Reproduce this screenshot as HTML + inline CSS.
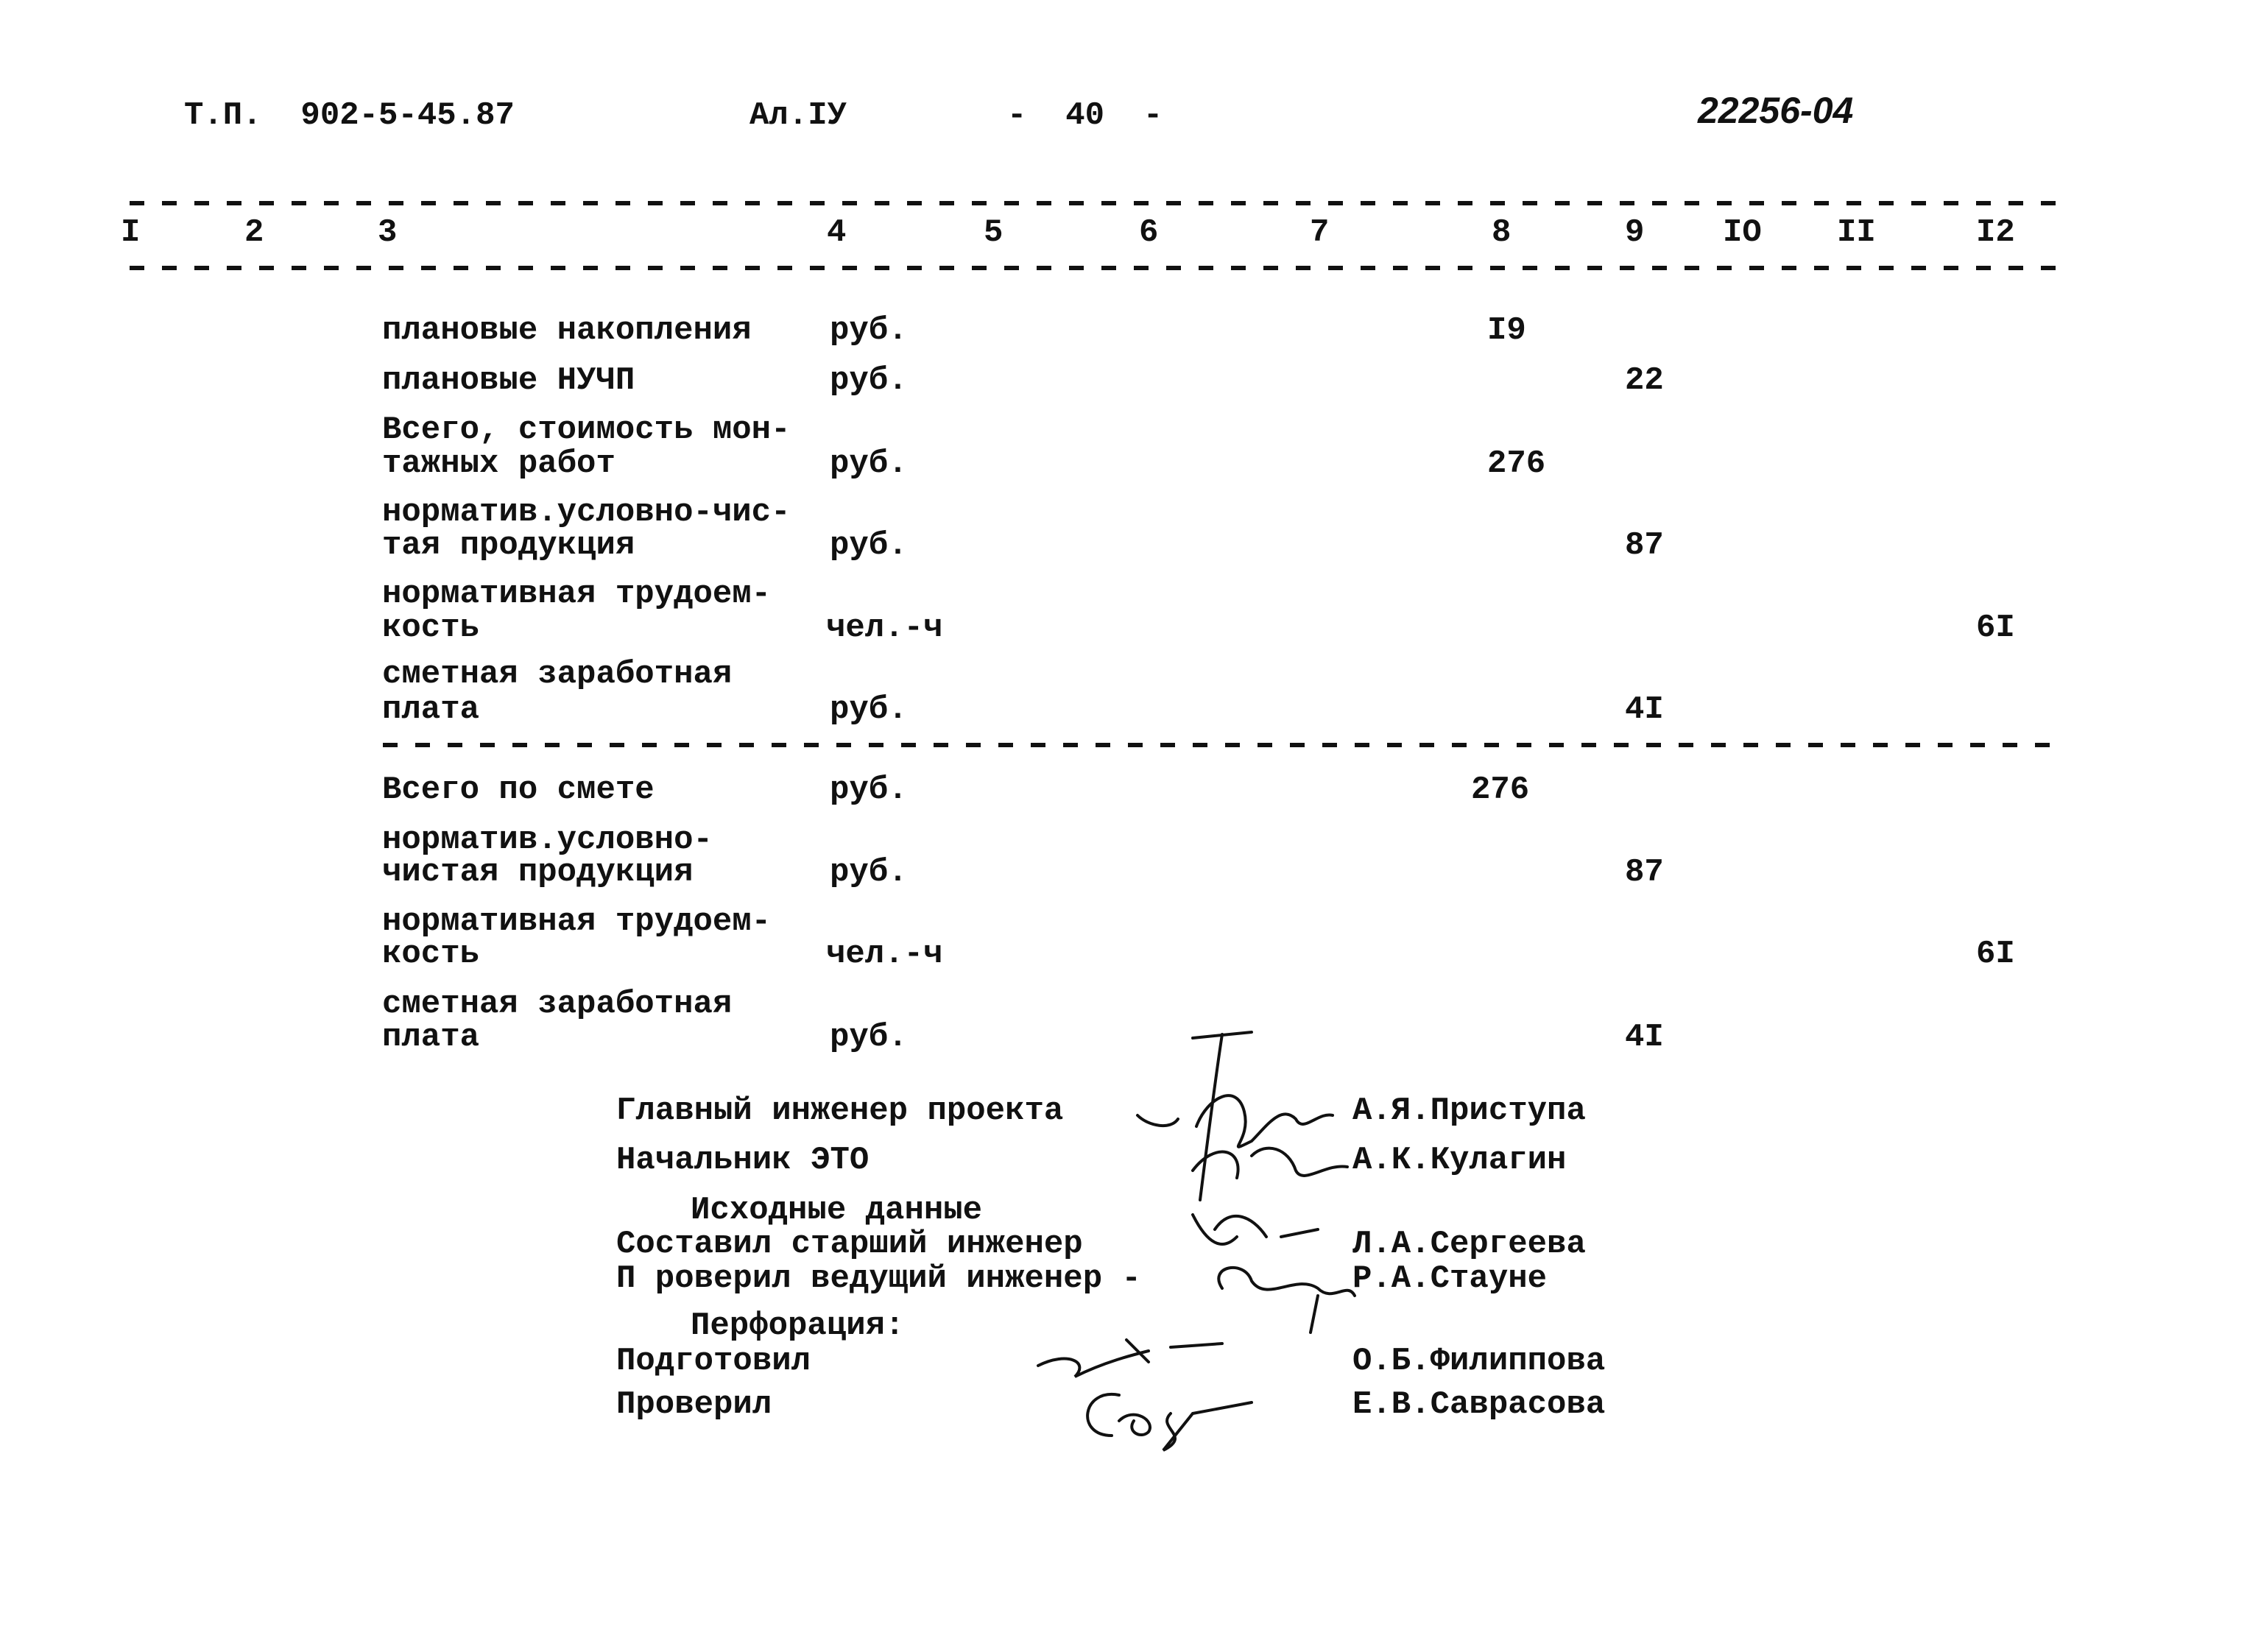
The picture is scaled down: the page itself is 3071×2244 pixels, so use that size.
<!DOCTYPE html>
<html><head><meta charset="utf-8"><style>
body{margin:0;background:#fff;}
#p{position:relative;width:3071px;height:2244px;overflow:hidden;background:#fff;font-family:"Liberation Mono","DejaVu Sans Mono",monospace;font-size:44px;font-weight:bold;color:#111;}
#p div{position:absolute;white-space:pre;line-height:44px;}
</style></head><body><div id="p">
<svg width="3071" height="2244" style="position:absolute;left:0;top:0">
<g stroke="#111" stroke-width="6" stroke-dasharray="20 24">
<line x1="176" y1="276" x2="2800" y2="276"/>
<line x1="176" y1="364" x2="2800" y2="364"/>
<line x1="520" y1="1012" x2="2800" y2="1012"/>
</g>
<g fill="none" stroke="#111" stroke-width="4" stroke-linecap="round">
<path d="M1620 1410 L1700 1402 M1660 1405 C1650 1470 1640 1550 1630 1630 M1545 1515 C1560 1530 1590 1535 1600 1520 M1625 1530 C1640 1490 1680 1470 1690 1510 C1700 1550 1660 1570 1700 1550 C1720 1530 1740 1500 1760 1520 C1770 1540 1790 1510 1810 1515"/>
<path d="M1620 1590 C1650 1550 1690 1560 1680 1600 M1700 1570 C1720 1550 1750 1560 1760 1590 C1770 1610 1800 1580 1830 1585"/>
<path d="M1620 1650 C1640 1690 1660 1700 1680 1680 M1650 1670 C1670 1640 1700 1650 1720 1680 M1740 1680 L1790 1670"/>
<path d="M1660 1750 C1640 1720 1690 1710 1700 1740 C1720 1770 1760 1730 1790 1750 C1810 1770 1830 1740 1840 1760 M1790 1760 L1780 1810"/>
<path d="M1410 1855 C1450 1835 1480 1850 1460 1870 C1500 1850 1540 1840 1560 1835 M1530 1820 L1560 1850 M1590 1830 L1660 1825"/>
<path d="M1520 1895 C1470 1885 1460 1950 1510 1950 M1520 1930 C1540 1910 1570 1930 1560 1945 C1550 1955 1530 1945 1540 1930 M1590 1920 C1570 1940 1620 1950 1580 1970 L1620 1920 L1700 1905"/>
</g>
</svg>
<div style="left:250px;top:135px">Т.П.  902-5-45.87</div>
<div style="left:1018px;top:135px">Ал.IУ</div>
<div style="left:1368px;top:135px">-  40  -</div>
<div style="left:2306px;top:128px;font-style:italic;font-family:'Liberation Sans',sans-serif;font-size:50px">22256-04</div>

<div style="left:164px;top:294px">I</div>
<div style="left:332px;top:294px">2</div>
<div style="left:513px;top:294px">3</div>
<div style="left:1123px;top:294px">4</div>
<div style="left:1336px;top:294px">5</div>
<div style="left:1547px;top:294px">6</div>
<div style="left:1779px;top:294px">7</div>
<div style="left:2026px;top:294px">8</div>
<div style="left:2207px;top:294px">9</div>
<div style="left:2340px;top:294px">IO</div>
<div style="left:2495px;top:294px">II</div>
<div style="left:2684px;top:294px">I2</div>

<div style="left:519px;top:427px">плановые накопления</div>
<div style="left:1127px;top:427px">руб.</div>
<div style="left:2020px;top:427px">I9</div>
<div style="left:519px;top:495px">плановые НУЧП</div>
<div style="left:1127px;top:495px">руб.</div>
<div style="left:2207px;top:495px">22</div>
<div style="left:519px;top:562px">Всего, стоимость мон-</div>
<div style="left:519px;top:608px">тажных работ</div>
<div style="left:1127px;top:608px">руб.</div>
<div style="left:2020px;top:608px">276</div>
<div style="left:519px;top:674px">норматив.условно-чис-</div>
<div style="left:519px;top:719px">тая продукция</div>
<div style="left:1127px;top:719px">руб.</div>
<div style="left:2207px;top:719px">87</div>
<div style="left:519px;top:785px">нормативная трудоем-</div>
<div style="left:519px;top:831px">кость</div>
<div style="left:1122px;top:831px">чел.-ч</div>
<div style="left:2684px;top:831px">6I</div>
<div style="left:519px;top:894px">сметная заработная</div>
<div style="left:519px;top:942px">плата</div>
<div style="left:1127px;top:942px">руб.</div>
<div style="left:2207px;top:942px">4I</div>

<div style="left:519px;top:1051px">Всего по смете</div>
<div style="left:1127px;top:1051px">руб.</div>
<div style="left:1998px;top:1051px">276</div>
<div style="left:519px;top:1119px">норматив.условно-</div>
<div style="left:519px;top:1163px">чистая продукция</div>
<div style="left:1127px;top:1163px">руб.</div>
<div style="left:2207px;top:1163px">87</div>
<div style="left:519px;top:1230px">нормативная трудоем-</div>
<div style="left:519px;top:1274px">кость</div>
<div style="left:1122px;top:1274px">чел.-ч</div>
<div style="left:2684px;top:1274px">6I</div>
<div style="left:519px;top:1342px">сметная заработная</div>
<div style="left:519px;top:1387px">плата</div>
<div style="left:1127px;top:1387px">руб.</div>
<div style="left:2207px;top:1387px">4I</div>

<div style="left:837px;top:1487px">Главный инженер проекта</div>
<div style="left:1837px;top:1487px">А.Я.Приступа</div>
<div style="left:837px;top:1554px">Начальник ЭТО</div>
<div style="left:1837px;top:1554px">А.К.Кулагин</div>
<div style="left:938px;top:1622px">Исходные данные</div>
<div style="left:837px;top:1668px">Составил старший инженер</div>
<div style="left:1837px;top:1668px">Л.А.Сергеева</div>
<div style="left:837px;top:1715px">П роверил ведущий инженер -</div>
<div style="left:1837px;top:1715px">Р.А.Стауне</div>
<div style="left:938px;top:1779px">Перфорация:</div>
<div style="left:837px;top:1827px">Подготовил</div>
<div style="left:1837px;top:1827px">О.Б.Филиппова</div>
<div style="left:837px;top:1886px">Проверил</div>
<div style="left:1837px;top:1886px">Е.В.Саврасова</div>
</div></body></html>
